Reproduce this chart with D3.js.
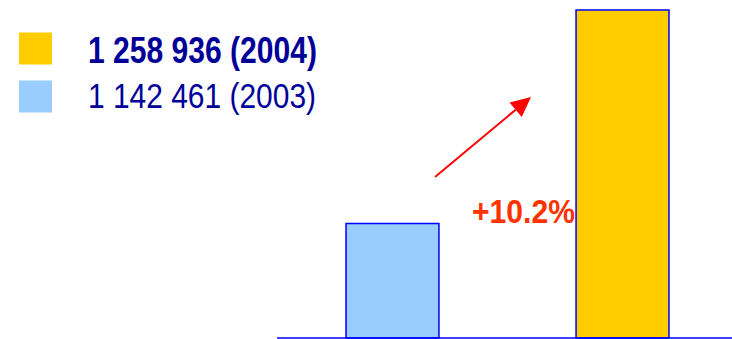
<!DOCTYPE html>
<html>
<head>
<meta charset="utf-8">
<script src="https://cdn.jsdelivr.net/npm/d3@7"></script>
<style>
  html, body { margin: 0; padding: 0; background: #fff; }
  svg { display: block; font-family: "Liberation Sans", Arial, sans-serif; }
</style>
</head>
<body>
<svg id="chart" width="732" height="339"></svg>
<script>
// Yearly totals
const years = ["2003", "2004"];
const totals = [1142461, 1258936];
const barColors = ["#99ccff", "#ffcc00"];
const legendOrder = [1, 0]; // newest year listed first

const W = 732, H = 339;
const svg = d3.select("#chart");

const x = d3.scaleBand()
  .domain(years)
  .range([280, 735])
  .paddingInner(0.596)
  .paddingOuter(0.287);

const y = d3.scaleLinear()
  .domain([1080000, 1258936])
  .range([338, 10]);

// Bars
svg.selectAll("rect.bar")
  .data(years)
  .join("rect")
  .attr("class", "bar")
  .attr("x", d => x(d))
  .attr("width", x.bandwidth())
  .attr("y", (d, i) => y(totals[i]))
  .attr("height", (d, i) => y.range()[0] - y(totals[i]))
  .attr("fill", (d, i) => barColors[i])
  .attr("stroke", "#0000ff")
  .attr("stroke-width", 1.5);

// Baseline
svg.append("line")
  .attr("x1", 277).attr("x2", W)
  .attr("y1", y.range()[0]).attr("y2", y.range()[0])
  .attr("stroke", "#0000ff")
  .attr("stroke-width", 1.5);

// Growth arrow
const tip = [531, 97], tail = [435, 177];
const ang = Math.atan2(tip[1] - tail[1], tip[0] - tail[0]);
const headLen = 20, headHalf = 9.5;
const bx = tip[0] - headLen * Math.cos(ang), by = tip[1] - headLen * Math.sin(ang);
svg.append("line")
  .attr("x1", tail[0]).attr("y1", tail[1])
  .attr("x2", bx).attr("y2", by)
  .attr("stroke", "#ff0000")
  .attr("stroke-width", 2);
svg.append("path")
  .attr("d", d3.line()([
    tip,
    [bx + headHalf * Math.sin(ang), by - headHalf * Math.cos(ang)],
    [bx - headHalf * Math.sin(ang), by + headHalf * Math.cos(ang)]
  ]) + "Z")
  .attr("fill", "#ff0000");

// Growth label
const growth = totals[1] / totals[0] - 1;
svg.append("text")
  .attr("x", 472)
  .attr("y", 223)
  .attr("textLength", 103)
  .attr("lengthAdjust", "spacingAndGlyphs")
  .attr("font-size", 34)
  .attr("font-weight", "bold")
  .attr("fill", "#ff3300")
  .text("+" + d3.format(".1%")(growth));

// Legend
const fmt = v => d3.format(",")(v).replace(/,/g, " ");
const legend = svg.append("g");
legendOrder.forEach((idx, row) => {
  const top = 32.5 + row * 48;
  legend.append("rect")
    .attr("x", 19).attr("y", top)
    .attr("width", 33).attr("height", 32)
    .attr("fill", barColors[idx]);
  const bold = row === 0;
  legend.append("text")
    .attr("x", 88)
    .attr("y", bold ? 62.5 : 107.5)
    .attr("textLength", bold ? 229 : 228)
    .attr("lengthAdjust", "spacingAndGlyphs")
    .attr("font-size", bold ? 36 : 35)
    .attr("font-weight", bold ? "bold" : "normal")
    .attr("fill", "#000099")
    .text(`${fmt(totals[idx])} (${years[idx]})`);
});
</script>
</body>
</html>
